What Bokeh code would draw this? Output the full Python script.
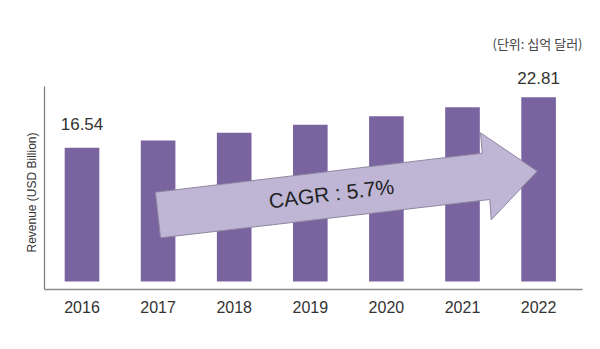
import numpy as np
from bokeh.plotting import figure
from bokeh.models import Range1d, FixedTicker, ColumnDataSource
from bokeh.core.properties import value
from bokeh.embed import file_html
from bokeh.resources import INLINE

# ---- data ----
years = [2016, 2017, 2018, 2019, 2020, 2021, 2022]
year_labels = ["2016", "2017", "2018", "2019", "2020", "2021", "2022"]
revenue = [16.54, 17.45, 18.40, 19.39, 20.46, 21.57, 22.81]
labelled_years = [2016, 2022]
labelled_values = [16.54, 22.81]
labelled_texts = ["16.54", "22.81"]
cagr_text = "CAGR : 5.7%"
unit_text = "(단위: 십억 달러)"
y_title = "Revenue (USD Billion)"

# ---- layout (pixels) ----
W, H = 600, 349
FL, FR, FT, FB = 0, 582, 10, 289      # plotting frame
AXL, AXT = 44, 86                      # left axis x, top of left axis line
PX_PER_YEAR = 76.1
PX_PER_UNIT = 8.08
ZERO_PY = 281
FIRST_BAR_PX = 81.5

X0 = years[0] - (FIRST_BAR_PX - FL) / PX_PER_YEAR
x_start, x_end = X0, X0 + (FR - FL) / PX_PER_YEAR
y_start, y_end = (ZERO_PY - FB) / PX_PER_UNIT, (ZERO_PY - FT) / PX_PER_UNIT


def to_data(xp, yp):
    return X0 + (xp - FL) / PX_PER_YEAR, (ZERO_PY - yp) / PX_PER_UNIT


axis_x, axis_top = to_data(AXL, AXT)

TEXT = "#333333"
FONT = "Liberation Sans"

p = figure(width=W, height=H, x_range=Range1d(x_start, x_end),
           y_range=Range1d(y_start, y_end),
           min_border_left=FL, min_border_right=W - FR,
           min_border_top=FT, min_border_bottom=H - FB,
           toolbar_location=None, output_backend="svg")
p.outline_line_color = None
p.grid.visible = False
p.background_fill_color = "white"
p.border_fill_color = "white"

# bottom axis
xa = p.xaxis[0]
xa.ticker = FixedTicker(ticks=years)
xa.bounds = (axis_x, x_end)
xa.major_label_overrides = {y: s for y, s in zip(years, year_labels)}
xa.major_tick_line_color = None
xa.minor_tick_line_color = None
xa.axis_line_color = "#8c8c8c"
xa.axis_line_width = 1.5
xa.major_label_text_font = FONT
xa.major_label_text_font_size = "16px"
xa.major_label_text_color = TEXT
xa.major_label_standoff = 5

# left axis (line only), placed inside the frame
ya = p.yaxis[0]
ya.ticker = FixedTicker(ticks=[])
ya.fixed_location = axis_x
ya.bounds = (y_start, axis_top)
ya.major_tick_line_color = None
ya.minor_tick_line_color = None
ya.major_label_text_font_size = "0px"
ya.axis_line_color = "#7a7a7a"
ya.axis_line_width = 1.2

# y title
tx, ty = to_data(31, 192)
p.text(x=[tx], y=[ty], text=[y_title], angle=np.pi / 2,
       text_font=value(FONT), text_font_size="12px", text_color=TEXT,
       text_align="center", text_baseline="middle")

# bars
p.vbar(x=years, top=revenue, bottom=0, width=0.455,
       fill_color="#7a64a0", line_color=None)

# CAGR arrow
arrow_px = [(155, 191.7), (481.7, 152.7), (480, 132.3), (536.7, 170.7),
            (490.7, 219.3), (489.3, 199), (160, 237.3)]
ax_, ay_ = zip(*[to_data(a, b) for a, b in arrow_px])
p.patch(list(ax_), list(ay_), fill_color="#bfb5d5", line_color="#8e879e",
        line_width=1)

cx, cy = to_data(331, 193)
p.text(x=[cx], y=[cy], text=[cagr_text], angle=0.119,
       text_font=value(FONT), text_font_size="21px", text_color="#222222",
       text_align="center", text_baseline="middle")

# value labels
lab_src = ColumnDataSource(dict(x=labelled_years, y=labelled_values,
                                t=labelled_texts, dy=[-23.5, -19]))
p.text(x="x", y="y", text="t", y_offset="dy", source=lab_src,
       text_font=value(FONT), text_font_size="17px", text_color=TEXT,
       text_align="center", text_baseline="alphabetic")

# unit note
ux, uy = to_data(582, 43)
p.text(x=[ux], y=[uy], text=[unit_text], text_font=value("Noto Sans CJK KR"),
       text_font_size="13px", text_color="#444444",
       text_align="right", text_baseline="middle")

open("out.html", "w").write(file_html(p, INLINE))
